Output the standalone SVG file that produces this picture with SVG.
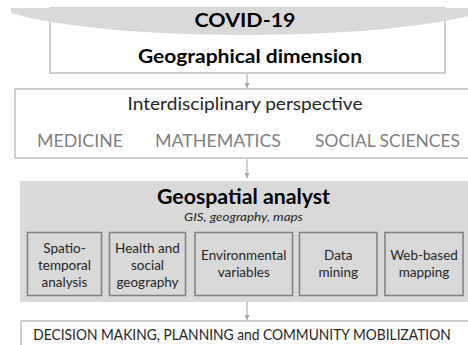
<svg xmlns="http://www.w3.org/2000/svg" width="468" height="345" viewBox="0 0 468 345">
  <style>
    text { font-family: Lato, "Open Sans", "Liberation Sans", sans-serif; text-anchor: middle; }
    .frame { fill: #ffffff; stroke: #bfbfbf; stroke-width: 1.5; }
    .edge { fill: none; stroke: #bfbfbf; stroke-width: 1.5; }
    .panel { fill: #d9d9d9; }
    .item { fill: #d9d9d9; stroke: #7f7f7f; stroke-width: 1.5; }
    .head { font-weight: bold; fill: #000000; }
    .sub { fill: #262626; }
    .field { fill: #808080; font-size: 17px; }
    .item-label { fill: #262626; font-size: 13.5px; }
    .link { stroke: #a6a6a6; stroke-width: 1; fill: none; marker-end: url(#tip); }
  </style>
  <defs>
    <marker id="tip" markerWidth="6" markerHeight="6" refX="5" refY="3" orient="auto" markerUnits="userSpaceOnUse">
      <path d="M0,0.5 L5,3 L0,5.5 Z" fill="#a6a6a6"/>
    </marker>
    <clipPath id="capClip">
      <rect x="11" y="8" width="457" height="40"/>
    </clipPath>
  </defs>

  <rect width="468" height="345" fill="#ffffff"/>

  <!-- Geographical dimension frame, topped by the COVID-19 cap -->
  <g id="geographical-dimension">
    <rect class="frame" x="50" y="8" width="395" height="65"/>
    <text class="head" x="250" y="63" font-size="18" textLength="224" lengthAdjust="spacingAndGlyphs">Geographical dimension</text>
  </g>
  <g id="covid-19">
    <ellipse cx="245" cy="-4" rx="260" ry="39" fill="#d9d9d9" clip-path="url(#capClip)"/>
    <text class="head" x="245" y="27" font-size="19" textLength="101" lengthAdjust="spacingAndGlyphs">COVID-19</text>
  </g>

  <!-- Interdisciplinary perspective: open on the right -->
  <g id="interdisciplinary-perspective">
    <path class="edge" d="M468,89 H15 V158 H468"/>
    <text class="sub" x="245" y="110" font-size="17.5" textLength="235" lengthAdjust="spacingAndGlyphs">Interdisciplinary perspective</text>
    <text class="field" x="80" y="147" textLength="86" lengthAdjust="spacingAndGlyphs">MEDICINE</text>
    <text class="field" x="218" y="147" textLength="126" lengthAdjust="spacingAndGlyphs">MATHEMATICS</text>
    <text class="field" x="387.5" y="147" textLength="145" lengthAdjust="spacingAndGlyphs">SOCIAL SCIENCES</text>
  </g>

  <!-- Geospatial analyst panel -->
  <g id="geospatial-analyst">
    <rect class="panel" x="20" y="181" width="448" height="121"/>
    <text class="head" x="243.5" y="204" font-size="20.5" textLength="173" lengthAdjust="spacingAndGlyphs">Geospatial analyst</text>
    <text class="sub" x="243.5" y="221" font-size="11.5" font-style="italic" textLength="119" lengthAdjust="spacingAndGlyphs">GIS, geography, maps</text>
  </g>

  <g id="spatio-temporal-analysis">
    <rect class="item" x="27.5" y="232.5" width="74" height="63"/>
    <text class="item-label" x="64.5" y="253">Spatio-</text>
    <text class="item-label" x="64.5" y="270">temporal</text>
    <text class="item-label" x="64.5" y="286.5">analysis</text>
  </g>
  <g id="health-social-geography">
    <rect class="item" x="109.5" y="232.5" width="76" height="63"/>
    <text class="item-label" x="147.5" y="253">Health and</text>
    <text class="item-label" x="147.5" y="270">social</text>
    <text class="item-label" x="147.5" y="286.5">geography</text>
  </g>
  <g id="environmental-variables">
    <rect class="item" x="195" y="232.5" width="97.5" height="63"/>
    <text class="item-label" x="243.75" y="260">Environmental</text>
    <text class="item-label" x="243.75" y="277">variables</text>
  </g>
  <g id="data-mining">
    <rect class="item" x="299.5" y="232.5" width="77.5" height="63"/>
    <text class="item-label" x="338.25" y="260">Data</text>
    <text class="item-label" x="338.25" y="277">mining</text>
  </g>
  <g id="web-based-mapping">
    <rect class="item" x="385" y="232.5" width="78" height="63"/>
    <text class="item-label" x="424" y="260">Web-based</text>
    <text class="item-label" x="424" y="277">mapping</text>
  </g>

  <!-- Outcome: open at the bottom and right; label narrowed to fit the width -->
  <g id="decision-making">
    <path class="edge" d="M21,345 V321 H468"/>
    <text class="sub" transform="translate(242 339.5) scale(0.92 1)" x="0" y="0" font-size="15">DECISION MAKING, PLANNING and COMMUNITY MOBILIZATION</text>
  </g>

  <!-- Connectors -->
  <g id="connectors">
    <line class="link" x1="247" y1="74" x2="247" y2="88"/>
    <line class="link" x1="247" y1="159" x2="247" y2="178"/>
    <line class="link" x1="247" y1="302" x2="247" y2="320"/>
  </g>
</svg>
